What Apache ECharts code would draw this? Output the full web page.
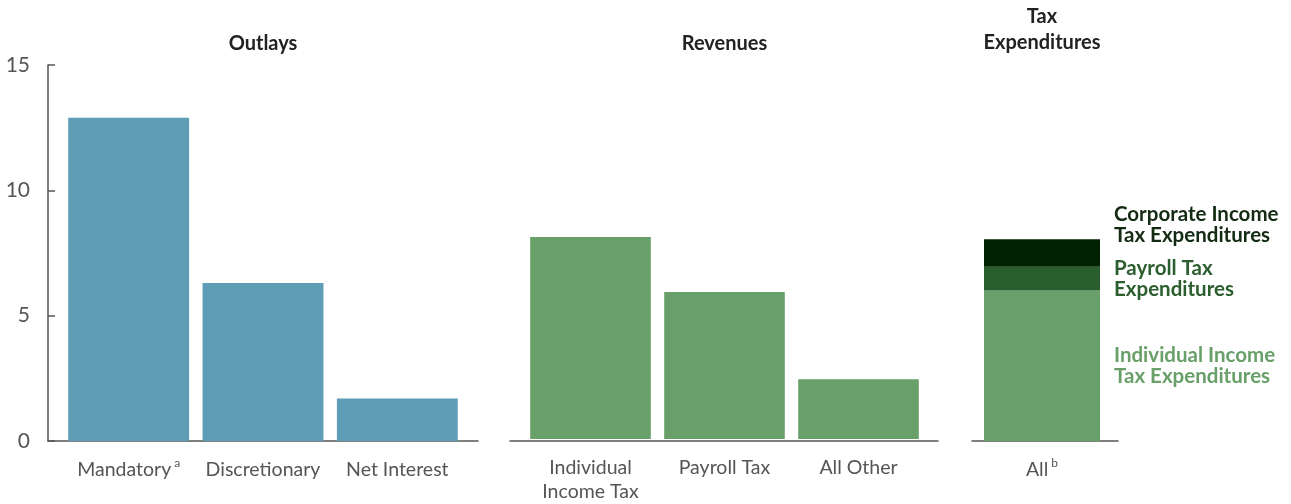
<!DOCTYPE html>
<html><head><meta charset="utf-8">
<script src="https://cdn.jsdelivr.net/npm/echarts@6/dist/echarts.min.js"></script>
<style>html,body{margin:0;padding:0;background:#fff}#c{width:1291px;height:504px}</style>
</head><body><div id="c"></div>
<script>
const panelTitles = ['Outlays', 'Revenues', 'Tax\nExpenditures'];
const outlayCats = ['Mandatory{sup|a}', 'Discretionary', 'Net Interest'];
const outlayVals = [12.9, 6.3, 1.7];
const revenueCats = ['Individual\nIncome Tax', 'Payroll Tax', 'All Other'];
const revenueVals = [8.1, 5.9, 2.4];
const teCats = ['All{sup|b}'];
const teIndividual = [6.0];
const tePayroll = [0.95];
const teCorporate = [1.1];
const teNames = ['Individual Income\nTax Expenditures', 'Payroll Tax\nExpenditures', 'Corporate Income\nTax Expenditures'];
const yTicks = [0, 5, 10, 15];

const FONT = 'Lato';
const TOP = 65, BOTTOM = 63;
const frames = [[48, 478], [510, 938], [972, 1118]];
const plots = [[61.5, 464.5], [523.5, 925.5], [977, 1107]];
const grids = [];
frames.forEach(f => grids.push({left: f[0], width: f[1] - f[0], top: TOP, bottom: BOTTOM}));
plots.forEach(p => grids.push({left: p[0], width: p[1] - p[0], top: TOP, bottom: BOTTOM}));

const lineStyle = {color: '#555', width: 1.5};
const xAxes = [], yAxes = [];
for (let i = 0; i < 3; i++) {
  xAxes.push({type: 'category', gridIndex: i, data: [''], axisLine: {show: true, lineStyle}, axisTick: {show: false}, axisLabel: {show: false}});
  yAxes.push({type: 'value', gridIndex: i, min: 0, max: 15, interval: 5,
    show: i === 0,
    axisLine: {show: true, lineStyle},
    axisTick: {show: true, inside: true, length: 7, lineStyle},
    splitLine: {show: false},
    axisLabel: {show: true, margin: 18, fontFamily: FONT, fontSize: 21, color: '#555',
      formatter: v => yTicks.includes(v) ? String(v) : ''}});
}
const catSets = [outlayCats, revenueCats, teCats];
const labelStyle = {fontFamily: FONT, fontSize: 19.5, color: '#555', lineHeight: 24.5, margin: 16, interval: 0,
  rich: {sup: {fontFamily: FONT, fontSize: 12, color: '#555', verticalAlign: 'top', lineHeight: 24.5, padding: [0, 0, 8, 3]}}};
for (let i = 0; i < 3; i++) {
  xAxes.push({type: 'category', gridIndex: 3 + i, data: catSets[i], axisLine: {show: false}, axisTick: {show: false}, axisLabel: labelStyle});
  yAxes.push({type: 'value', gridIndex: 3 + i, min: 0, max: 15, interval: 5, show: false, splitLine: {show: false}});
}

const legendLabel = (color, offY) => ({show: true, position: 'right', distance: 14, align: 'left',
  offset: [0, offY], formatter: '{a}', fontFamily: FONT, fontWeight: 'bold', fontSize: 20.5, lineHeight: 21, color});

const option = {
  animation: false,
  title: panelTitles.map((t, i) => ({text: t, left: (plots[i][0] + plots[i][1]) / 2, top: i === 2 ? 4 : 31, padding: 0, textAlign: 'center',
    textStyle: {fontFamily: FONT, fontWeight: 'bold', fontSize: 20, color: '#222', lineHeight: 26}})),
  grid: grids, xAxis: xAxes, yAxis: yAxes,
  series: [
    {type: 'bar', xAxisIndex: 3, yAxisIndex: 3, data: outlayVals, barCategoryGap: '10%', itemStyle: {color: '#5d9eb6'}},
    {type: 'bar', xAxisIndex: 4, yAxisIndex: 4, data: revenueVals, barCategoryGap: '10%', itemStyle: {color: '#69a069'}},
    {type: 'bar', name: teNames[0], xAxisIndex: 5, yAxisIndex: 5, stack: 'te', data: teIndividual, barWidth: 116, itemStyle: {color: '#69a069'}, label: legendLabel('#69a069', 0)},
    {type: 'bar', name: teNames[1], xAxisIndex: 5, yAxisIndex: 5, stack: 'te', data: tePayroll, barWidth: 116, itemStyle: {color: '#2b5e2e'}, label: legendLabel('#2b5e2e', 0)},
    {type: 'bar', name: teNames[2], xAxisIndex: 5, yAxisIndex: 5, stack: 'te', data: teCorporate, barWidth: 116, itemStyle: {color: '#012200'}, label: legendLabel('#132a13', -28)}
  ]
};
echarts.init(document.getElementById('c'), null, {renderer: 'canvas'}).setOption(option);
</script></body></html>
